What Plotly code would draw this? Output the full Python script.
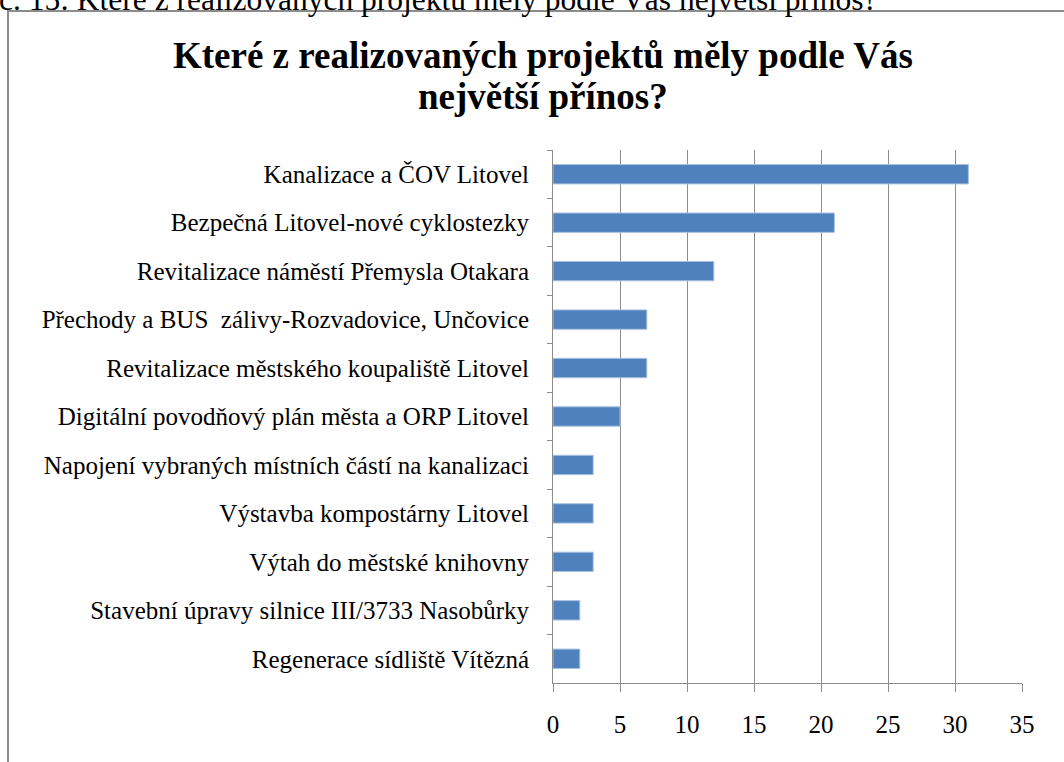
import plotly.graph_objects as go

categories = [
    "Kanalizace a ČOV Litovel",
    "Bezpečná Litovel-nové cyklostezky",
    "Revitalizace náměstí Přemysla Otakara",
    "Přechody a BUS  zálivy-Rozvadovice, Unčovice",
    "Revitalizace městského koupaliště Litovel",
    "Digitální povodňový plán města a ORP Litovel",
    "Napojení vybraných místních částí na kanalizaci",
    "Výstavba kompostárny Litovel",
    "Výtah do městské knihovny",
    "Stavební úpravy silnice III/3733 Nasobůrky",
    "Regenerace sídliště Vítězná",
]
values = [31, 21, 12, 7, 7, 5, 3, 3, 3, 2, 2]
x_ticks = [0, 5, 10, 15, 20, 25, 30, 35]

FONT = "Liberation Serif, Times New Roman, serif"
W, H = 1064, 762
L, R, T, B = 553, 42, 150, 79
pw, ph = W - L - R, H - T - B

def px(x):
    return (x - L) / pw

def py(y):
    return (H - B - y) / ph

fig = go.Figure(go.Bar(
    x=values, y=categories, orientation="h",
    marker=dict(color="#4F81BD", line=dict(color="#A9C1E0", width=1)),
))

fig.update_layout(
    width=W, height=H,
    margin=dict(l=L, r=R, t=T, b=B),
    paper_bgcolor="white", plot_bgcolor="white",
    bargap=0.6,
    showlegend=False,
    font=dict(family=FONT, color="black"),
)

fig.update_xaxes(
    range=[0, 35], tickvals=x_ticks, ticktext=[str(v) for v in x_ticks],
    showgrid=True, gridcolor="#8C8C8C", gridwidth=1,
    showline=True, linecolor="#8C8C8C", linewidth=1,
    ticks="outside", ticklen=8, tickcolor="#8C8C8C",
    ticklabelstandoff=11,
    tickfont=dict(size=25, family=FONT, color="black"),
    zeroline=False, fixedrange=True,
)
fig.update_yaxes(
    autorange="reversed", type="category",
    showline=True, linecolor="#8C8C8C", linewidth=1,
    ticks="outside", ticklen=5, tickcolor="#8C8C8C", tickson="boundaries",
    ticklabelstandoff=18,
    tickfont=dict(size=25, family=FONT, color="black"),
    showgrid=False, fixedrange=True,
)

# outer chart border (extends beyond the right and bottom edges of the image)
fig.add_shape(type="rect", xref="paper", yref="paper",
              x0=px(8), x1=px(W + 20), y0=py(H + 20), y1=py(11),
              line=dict(color="#8C8C8C", width=2), fillcolor="rgba(0,0,0,0)", layer="below")

# chart title (two lines)
for txt, ymid in [("Které z realizovaných projektů měly podle Vás", 56),
                  ("největší přínos?", 96)]:
    fig.add_annotation(
        text="<b>" + txt + "</b>", xref="paper", yref="paper",
        x=px(543), y=py(ymid), xanchor="center", yanchor="middle", showarrow=False,
        font=dict(size=37, family=FONT, color="black"),
    )

# cut-off caption above the chart frame
fig.add_annotation(
    text="č. 15: Které z realizovaných projektů měly podle Vás největší přínos?",
    xref="paper", yref="paper", x=px(-3), y=py(-1),
    xanchor="left", yanchor="middle", showarrow=False,
    font=dict(size=31.5, family=FONT, color="black"),
)

fig.write_html(
    "out.html",
    config={"displayModeBar": False},
    post_script="document.body.style.margin='0';document.body.style.overflow='hidden';",
)
